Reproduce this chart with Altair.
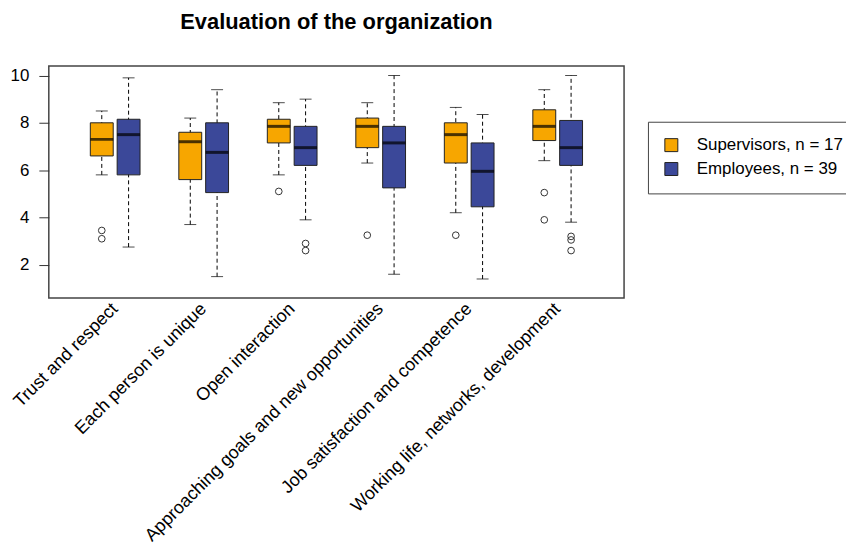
import altair as alt
import pandas as pd

categories = [
    "Trust and respect",
    "Each person is unique",
    "Open interaction",
    "Approaching goals and new opportunities",
    "Job satisfaction and competence",
    "Working life, networks, development",
]
group_labels = ["Supervisors, n = 17", "Employees, n = 39"]
group_colors = ["#F7A600", "#3B4899"]

# Box summaries
sup_low = [5.8, 3.7, 5.8, 6.3, 4.2, 6.4]
sup_q1 = [6.6, 5.6, 7.15, 6.95, 6.3, 7.25]
sup_med = [7.3, 7.2, 7.85, 7.85, 7.5, 7.85]
sup_q3 = [8.0, 7.6, 8.15, 8.2, 8.0, 8.55]
sup_high = [8.5, 8.2, 8.85, 8.85, 8.65, 9.4]

emp_low = [2.75, 1.5, 3.9, 1.6, 1.4, 3.8]
emp_q1 = [5.8, 5.05, 6.2, 5.25, 4.45, 6.2]
emp_med = [7.5, 6.75, 6.95, 7.15, 5.95, 6.95]
emp_q3 = [8.15, 8.0, 7.85, 7.85, 7.15, 8.1]
emp_high = [9.9, 9.4, 9.0, 10.0, 8.35, 10.0]

# Outliers (category index, value)
sup_out_cat = [0, 0, 2, 3, 4, 5, 5]
sup_out_val = [3.45, 3.1, 5.1, 3.25, 3.25, 5.05, 3.9]
emp_out_cat = [2, 2, 5, 5, 5]
emp_out_val = [2.9, 2.6, 3.2, 3.05, 2.6]

rows = []
for i, c in enumerate(categories):
    rows.append(dict(cat=c, group=group_labels[0], low=sup_low[i], q1=sup_q1[i],
                     med=sup_med[i], q3=sup_q3[i], high=sup_high[i]))
    rows.append(dict(cat=c, group=group_labels[1], low=emp_low[i], q1=emp_q1[i],
                     med=emp_med[i], q3=emp_q3[i], high=emp_high[i]))
stats = pd.DataFrame(rows)

out_rows = [dict(cat=categories[i], group=group_labels[0], value=v)
            for i, v in zip(sup_out_cat, sup_out_val)]
out_rows += [dict(cat=categories[i], group=group_labels[1], value=v)
             for i, v in zip(emp_out_cat, emp_out_val)]
outliers = pd.DataFrame(out_rows)

FONT = "Liberation Sans"

x_enc = alt.X(
    "cat:N",
    sort=categories,
    scale=alt.Scale(paddingInner=0, paddingOuter=0.25),
    axis=alt.Axis(
        title=None, labelAngle=-45, labelFontSize=18, labelFont=FONT,
        labelColor="black", ticks=False, domain=False, labelPadding=8,
        labelAlign="right", labelBaseline="middle", labelLimit=500,
    ),
)
xo_enc = alt.XOffset(
    "group:N", sort=group_labels,
    scale=alt.Scale(paddingOuter=0.65, paddingInner=0),
)
y_scale = alt.Scale(domain=[0.6, 10.4], nice=False, zero=False)
y_axis = alt.Axis(
    title=None, values=[2, 4, 6, 8, 10], tickSize=10, labelPadding=10,
    labelFontSize=17, labelFont=FONT, labelColor="black", tickColor="#333",
    domain=False, grid=False,
)

base = alt.Chart(stats)

whisker = base.mark_rule(color="black", strokeDash=[4, 3], strokeWidth=1).encode(
    x=x_enc, xOffset=xo_enc,
    y=alt.Y("low:Q", scale=y_scale, axis=y_axis), y2="high:Q",
)
cap_low = base.mark_tick(color="black", size=12, thickness=1).encode(
    x=x_enc, xOffset=xo_enc, y=alt.Y("low:Q", scale=y_scale),
)
cap_high = base.mark_tick(color="black", size=12, thickness=1).encode(
    x=x_enc, xOffset=xo_enc, y=alt.Y("high:Q", scale=y_scale),
)
box = base.mark_bar(size=23, stroke="#222", strokeWidth=1, opacity=1).encode(
    x=x_enc, xOffset=xo_enc,
    y=alt.Y("q1:Q", scale=y_scale), y2="q3:Q",
    color=alt.Color(
        "group:N",
        scale=alt.Scale(domain=group_labels, range=group_colors),
        legend=alt.Legend(
            title=None, orient="none", legendX=602, legendY=56,
            direction="vertical", strokeColor="#444", fillColor="white",
            padding=15, symbolType="square", symbolSize=170,
            symbolStrokeColor="#222", symbolStrokeWidth=1,
            labelFontSize=17, labelFont=FONT, labelColor="black",
            labelOffset=17, rowPadding=5, labelLimit=400,
        ),
    ),
)
median = base.mark_tick(color="black", size=23, thickness=3).encode(
    x=x_enc, xOffset=xo_enc, y=alt.Y("med:Q", scale=y_scale),
)
points = alt.Chart(outliers).mark_point(
    shape="circle", filled=False, size=45, color="#333", strokeWidth=1, opacity=1,
).encode(
    x=x_enc, xOffset=xo_enc, y=alt.Y("value:Q", scale=y_scale),
)

chart = alt.layer(whisker, cap_low, cap_high, box, median, points).properties(
    width=578,
    height=233,
    background="white",
    title=alt.TitleParams(
        "Evaluation of the organization", fontSize=22, fontWeight="bold",
        font=FONT, anchor="middle", color="black", offset=32,
    ),
    padding={"left": 41, "top": 57, "right": 223, "bottom": 251},
    autosize=alt.AutoSizeParams(type="none"),
).configure_view(
    stroke="#444", strokeWidth=1.5
)

chart.save("out.html", embed_options={"renderer": "svg", "actions": False})
